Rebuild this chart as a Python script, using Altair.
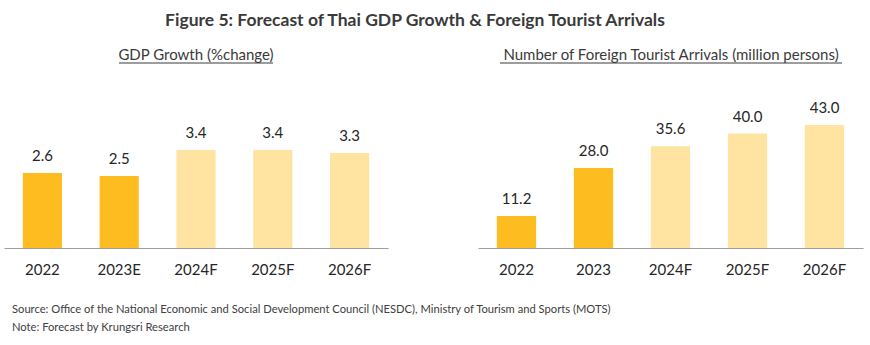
import altair as alt
import pandas as pd

# ---- data ----
gdp_years = ["2022", "2023E", "2024F", "2025F", "2026F"]
gdp_values = [2.6, 2.5, 3.4, 3.4, 3.3]
gdp_kind = ["Actual", "Actual", "Forecast", "Forecast", "Forecast"]

tour_years = ["2022", "2023", "2024F", "2025F", "2026F"]
tour_values = [11.2, 28.0, 35.6, 40.0, 43.0]
tour_kind = ["Actual", "Actual", "Forecast", "Forecast", "Forecast"]

fig_title = "Figure 5: Forecast of Thai GDP Growth & Foreign Tourist Arrivals"
left_title = "GDP Growth (%change)"
right_title = "Number of Foreign Tourist Arrivals (million persons)"
source_line = "Source: Office of the National Economic and Social Development Council (NESDC), Ministry of Tourism and Sports (MOTS)"
note_line = "Note: Forecast by Krungsri Research"

FONT = "Lato"
DARK = "#FDBD21"
LIGHT = "#FEE3A1"
TXT = "#262626"

gdp_df = pd.DataFrame({"year": gdp_years, "value": gdp_values, "kind": gdp_kind})
tour_df = pd.DataFrame({"year": tour_years, "value": tour_values, "kind": tour_kind})

color = alt.Color("kind:N", scale=alt.Scale(domain=["Actual", "Forecast"], range=[DARK, LIGHT]), legend=None)


def panel(df, xrange, ymax, order):
    x = alt.X(
        "year:N",
        sort=order,
        scale=alt.Scale(range=xrange, paddingInner=0.49, paddingOuter=0.245),
        axis=alt.Axis(
            title=None, orient="bottom", ticks=False, grid=False, labelAngle=0,
            labelPadding=14, labelFontSize=15, labelColor=TXT, labelFont=FONT,
            domainColor="#A39C9C", domainWidth=1.2,
        ),
    )
    y = alt.Y("value:Q", scale=alt.Scale(domain=[0, ymax], nice=False, zero=True), axis=None)
    base = alt.Chart(df)
    bars = base.mark_bar().encode(x=x, y=y, color=color)
    labels = base.mark_text(baseline="middle", dy=-17, fontSize=15, font=FONT, color=TXT).encode(
        x=x, y=y, text=alt.Text("value:Q", format=".1f")
    )
    return alt.layer(bars, labels)


left = panel(gdp_df, [4, 388], 8.61, gdp_years)
right = panel(tour_df, [478, 863], 86.7, tour_years)


def txt(s, xpos, ypos, size, weight="normal", align="center", col="#3A3A3A"):
    return alt.Chart(pd.DataFrame({"t": [s]})).mark_text(
        align=align, baseline="middle", fontSize=size, fontWeight=weight, font=FONT, color=col
    ).encode(x=alt.value(xpos), y=alt.value(ypos), text="t:N")


def underline(x1, x2, ypos):
    return alt.Chart(pd.DataFrame({"a": [0]})).mark_rule(color="#3A3A3A", strokeWidth=1).encode(
        x=alt.value(x1), x2=alt.value(x2), y=alt.value(ypos)
    )


annotations = [
    txt(fig_title, 415, 21, 17.5, weight="bold"),
    txt(left_title, 196, 55, 15),
    underline(119, 273, 63),
    txt(right_title, 671, 55, 15),
    underline(500, 842, 63),
    txt(source_line, 12, 310, 11.2, align="left", col="#404040"),
    txt(note_line, 12, 328, 11.2, align="left", col="#404040"),
]

chart = (
    alt.layer(left, right, *annotations)
    .resolve_scale(x="independent", y="independent")
    .properties(
        width=870,
        height=248,
        padding={"left": 0, "top": 0, "right": 0, "bottom": 97},
        autosize=alt.AutoSizeParams(type="none"),
        background="white",
    )
    .configure_view(stroke=None)
)

chart.save("out.html", embed_options={"renderer": "svg", "actions": False})
